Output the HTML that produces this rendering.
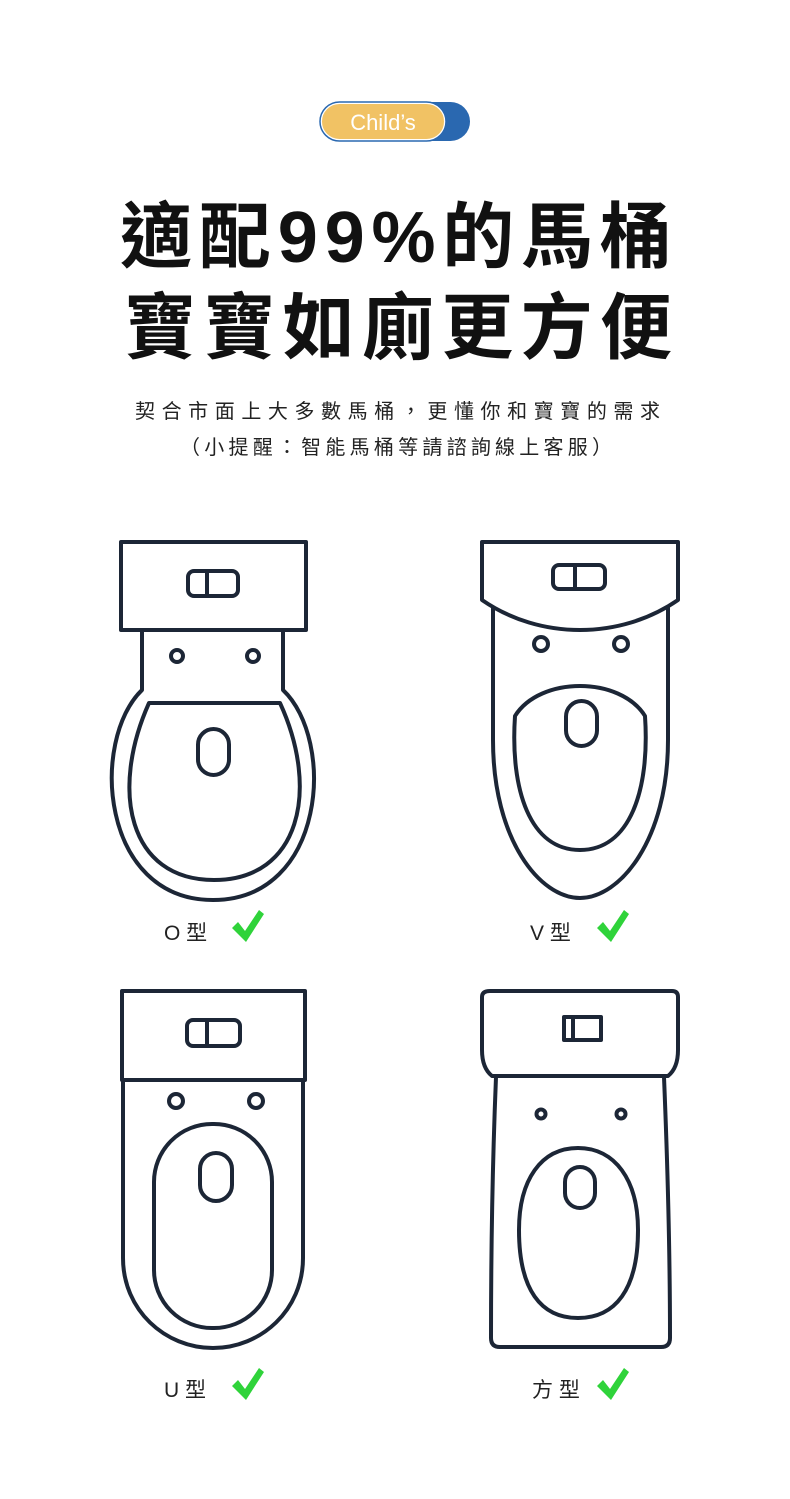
<!DOCTYPE html>
<html><head><meta charset="utf-8"><style>
html,body{margin:0;padding:0;background:#fff}
svg{display:block}
text{font-family:"Liberation Sans","Noto Sans CJK TC",sans-serif}
</style></head><body>
<svg width="790" height="1499" viewBox="0 0 790 1499" xmlns="http://www.w3.org/2000/svg">
<rect width="790" height="1499" fill="#fff"/>
<!-- badge -->
<rect x="320" y="102" width="150" height="39" rx="19.5" fill="#2a68b0"/>
<rect x="321" y="103" width="124" height="37" rx="18.5" fill="#f1c264" stroke="#fff" stroke-width="2"/>
<rect x="320" y="102" width="126" height="39" rx="19.5" fill="none" stroke="#2a68b0" stroke-width="1.5"/>
<text x="383" y="130" font-size="22" fill="#fff" text-anchor="middle">Child’s</text>
<!-- title -->
<text x="120" y="262" font-size="72" font-weight="bold" fill="#111" textLength="552" lengthAdjust="spacing">適配99%的馬桶</text>
<text x="124" y="353" font-size="72" font-weight="bold" fill="#111" textLength="548" lengthAdjust="spacing">寶寶如廁更方便</text>
<text x="135" y="418" font-size="20" fill="#222" textLength="525" lengthAdjust="spacing">契合市面上大多數馬桶，更懂你和寶寶的需求</text>
<text x="180" y="454" font-size="20" fill="#222" textLength="432" lengthAdjust="spacing">（小提醒：智能馬桶等請諮詢線上客服）</text>

<g fill="none" stroke="#1c2636" stroke-width="4" stroke-linejoin="round" stroke-linecap="round">
<!-- O type -->
<rect x="121" y="542" width="185" height="88"/>
<rect x="188" y="571" width="50" height="25" rx="6"/>
<line x1="207" y1="571" x2="207" y2="596"/>
<path d="M142 630 V690 C90 740 100 900 213 900 C326 900 336 740 283 690 V630"/>
<path d="M149 703 H280 C320 790 300 880 214 880 C128 880 110 790 149 703 Z"/>
<circle cx="177" cy="656" r="6"/>
<circle cx="253" cy="656" r="6"/>
<rect x="198" y="729" width="31" height="46" rx="15.5"/>
<!-- V type -->
<path d="M482 542 H678 V600 C620 640 540 640 482 600 Z"/>
<rect x="553" y="565" width="52" height="24" rx="6"/>
<line x1="575" y1="565" x2="575" y2="589"/>
<path d="M493 608 V740 C493 840 540 898 580 898 C620 898 668 840 668 740 V608"/>
<path d="M515 716 C540 676 620 676 645 716 C650 790 630 850 580 850 C530 850 510 790 515 716 Z"/>
<circle cx="541" cy="644" r="7"/>
<circle cx="621" cy="644" r="7"/>
<rect x="566" y="701" width="31" height="45" rx="15.5"/>
<!-- U type -->
<rect x="122" y="991" width="183" height="89"/>
<rect x="187" y="1020" width="53" height="26" rx="6"/>
<line x1="207" y1="1020" x2="207" y2="1046"/>
<path d="M123 1080 V1258 C123 1310 165 1348 213 1348 C261 1348 303 1310 303 1258 V1080"/>
<rect x="154" y="1124" width="118" height="204" rx="58"/>
<circle cx="176" cy="1101" r="7"/>
<circle cx="256" cy="1101" r="7"/>
<rect x="200" y="1153" width="32" height="48" rx="16"/>
<!-- square type -->
<path d="M490 991 H672 Q678 991 678 997 V1050 Q678 1068 668 1076 H492 Q482 1068 482 1050 V997 Q482 991 490 991 Z"/>
<rect x="564" y="1017" width="37" height="23"/>
<line x1="573" y1="1017" x2="573" y2="1040"/>
<path d="M496 1077 C493 1150 491 1250 491 1338 Q491 1347 500 1347 H661 Q670 1347 670 1338 C670 1250 667 1150 664 1077"/>
<path d="M578 1148 C615 1148 638 1180 638 1230 C638 1290 615 1318 578 1318 C541 1318 519 1290 519 1230 C519 1180 541 1148 578 1148 Z"/>
<circle cx="541" cy="1114" r="4.5"/>
<circle cx="621" cy="1114" r="4.5"/>
<rect x="565" y="1167" width="30" height="41" rx="15"/>
</g>

<!-- labels -->
<g font-size="21" fill="#222">
<text x="164" y="940">O 型</text>
<text x="530" y="940">V 型</text>
<text x="164" y="1397">U 型</text>
<text x="532" y="1397">方 型</text>
</g>
<g fill="#2fd33a">
<path d="M232 928 L238 922 L245 931 L259 910 L264 914 L246 942 Z"/>
<path d="M597 928 L603 922 L610 931 L624 910 L629 914 L611 942 Z"/>
<path d="M232 1386 L238 1380 L245 1389 L259 1368 L264 1372 L246 1400 Z"/>
<path d="M597 1386 L603 1380 L610 1389 L624 1368 L629 1372 L611 1400 Z"/>
</g>
</svg>
</body></html>
